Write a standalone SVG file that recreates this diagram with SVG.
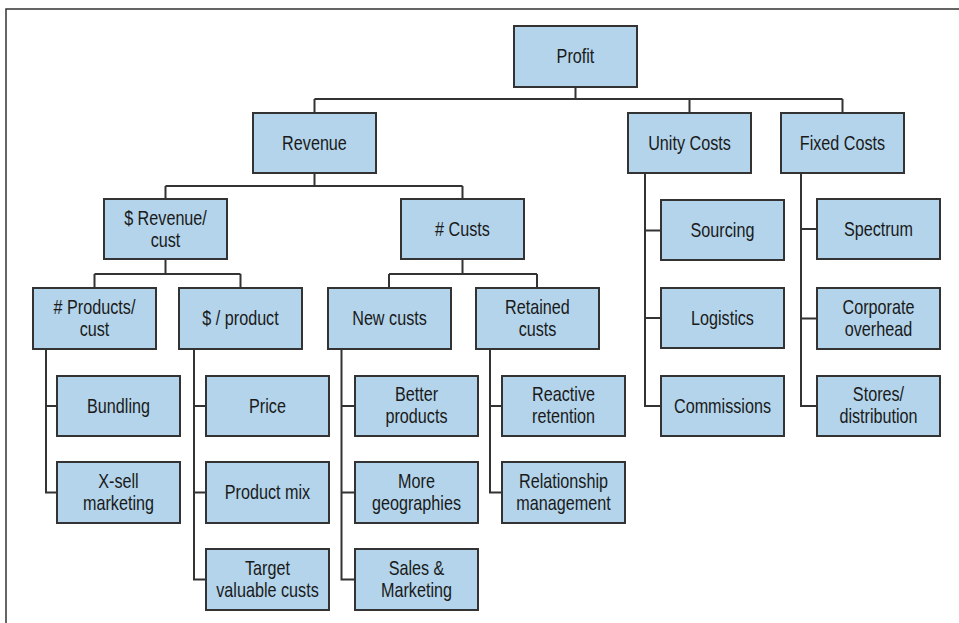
<svg xmlns="http://www.w3.org/2000/svg" width="959" height="623" viewBox="0 0 959 623">
  <style>
    .box rect { fill: #b3d4ea; stroke: #333333; stroke-width: 2; }
    .box text { font-family: "Liberation Sans", Arial, sans-serif; font-size: 19.5px; fill: #1a1a1a; text-anchor: middle;
                transform-box: fill-box; transform-origin: center; transform: scaleX(0.83); }
    .links path { fill: none; stroke: #333333; stroke-width: 2; }
    .frame { fill: none; stroke: #333333; stroke-width: 1.5; }
  </style>
  <rect width="959" height="623" fill="#ffffff"/>
  <path class="frame" d="M959 9 H6 V623"/>

  <g class="links">
    <!-- Profit -> level 1 -->
    <path d="M575.5 87 V99 M314.5 99 H842.5 M314.5 99 V113 M689.5 99 V113 M842.5 99 V113"/>
    <!-- Revenue -> level 2 -->
    <path d="M314.5 173 V186 M165.5 186 H462.5 M165.5 186 V199 M462.5 186 V199"/>
    <!-- $ Revenue/cust -> level 3 -->
    <path d="M165.5 259 V274 M94.5 274 H240.5 M94.5 274 V288 M240.5 274 V288"/>
    <!-- # Custs -> level 3 -->
    <path d="M462.5 259 V274 M389 274 H537 M389 274 V288 M537 274 V288"/>
    <!-- # Products/cust children -->
    <path d="M46 349 V492.5 H57 M46 406 H57"/>
    <!-- $ / product children -->
    <path d="M194 349 V579.5 H206 M194 406 H206 M194 492.5 H206"/>
    <!-- New custs children -->
    <path d="M341.5 349 V579.5 H355 M341.5 406 H355 M341.5 492.5 H355"/>
    <!-- Retained custs children -->
    <path d="M490 349 V492.5 H502 M490 406 H502"/>
    <!-- Unity Costs children -->
    <path d="M645 173 V406 H661 M645 230.5 H661 M645 318 H661"/>
    <!-- Fixed Costs children -->
    <path d="M801 173 V406 H817 M801 229 H817 M801 318.5 H817"/>
  </g>

  <g id="profit" class="box"><rect x="514" y="26" width="123" height="61"/><text x="575.5" y="63">Profit</text></g>

  <g id="revenue" class="box"><rect x="253" y="113" width="123" height="60"/><text x="314.5" y="150">Revenue</text></g>
  <g id="unity-costs" class="box"><rect x="628" y="113" width="123" height="60"/><text x="689.5" y="150">Unity Costs</text></g>
  <g id="fixed-costs" class="box"><rect x="781" y="113" width="123" height="60"/><text x="842.5" y="150">Fixed Costs</text></g>

  <g id="revenue-per-cust" class="box"><rect x="104" y="199" width="123" height="60"/><text x="165.5" y="225">$ Revenue/</text><text x="165.5" y="247">cust</text></g>
  <g id="num-custs" class="box"><rect x="401" y="199" width="123" height="60"/><text x="462.5" y="236"># Custs</text></g>
  <g id="sourcing" class="box"><rect x="661" y="200" width="123" height="60"/><text x="722.5" y="237">Sourcing</text></g>
  <g id="spectrum" class="box"><rect x="817" y="199" width="123" height="60"/><text x="878.5" y="236">Spectrum</text></g>

  <g id="products-per-cust" class="box"><rect x="33" y="288" width="123" height="61"/><text x="94.5" y="314"># Products/</text><text x="94.5" y="336">cust</text></g>
  <g id="dollars-per-product" class="box"><rect x="179" y="288" width="123" height="61"/><text x="240.5" y="325">$ / product</text></g>
  <g id="new-custs" class="box"><rect x="328" y="288" width="123" height="61"/><text x="389.5" y="325">New custs</text></g>
  <g id="retained-custs" class="box"><rect x="476" y="288" width="123" height="61"/><text x="537.5" y="314">Retained</text><text x="537.5" y="336">custs</text></g>
  <g id="logistics" class="box"><rect x="661" y="288" width="123" height="60"/><text x="722.5" y="325">Logistics</text></g>
  <g id="corporate-overhead" class="box"><rect x="817" y="288" width="123" height="61"/><text x="878.5" y="314">Corporate</text><text x="878.5" y="336">overhead</text></g>

  <g id="bundling" class="box"><rect x="57" y="376" width="123" height="60"/><text x="118.5" y="413">Bundling</text></g>
  <g id="price" class="box"><rect x="206" y="376" width="123" height="60"/><text x="267.5" y="413">Price</text></g>
  <g id="better-products" class="box"><rect x="355" y="376" width="123" height="60"/><text x="416.5" y="401">Better</text><text x="416.5" y="423">products</text></g>
  <g id="reactive-retention" class="box"><rect x="502" y="376" width="123" height="60"/><text x="563.5" y="401">Reactive</text><text x="563.5" y="423">retention</text></g>
  <g id="commissions" class="box"><rect x="661" y="376" width="123" height="60"/><text x="722.5" y="413">Commissions</text></g>
  <g id="stores-distribution" class="box"><rect x="817" y="376" width="123" height="60"/><text x="878.5" y="401">Stores/</text><text x="878.5" y="423">distribution</text></g>

  <g id="x-sell-marketing" class="box"><rect x="57" y="462" width="123" height="61"/><text x="118.5" y="488">X-sell</text><text x="118.5" y="510">marketing</text></g>
  <g id="product-mix" class="box"><rect x="206" y="462" width="123" height="61"/><text x="267.5" y="499">Product mix</text></g>
  <g id="more-geographies" class="box"><rect x="355" y="462" width="123" height="61"/><text x="416.5" y="488">More</text><text x="416.5" y="510">geographies</text></g>
  <g id="relationship-management" class="box"><rect x="502" y="462" width="123" height="61"/><text x="563.5" y="488">Relationship</text><text x="563.5" y="510">management</text></g>

  <g id="target-valuable-custs" class="box"><rect x="206" y="549" width="123" height="61"/><text x="267.5" y="575">Target</text><text x="267.5" y="597">valuable custs</text></g>
  <g id="sales-marketing" class="box"><rect x="355" y="549" width="123" height="61"/><text x="416.5" y="575">Sales &amp;</text><text x="416.5" y="597">Marketing</text></g>
</svg>
